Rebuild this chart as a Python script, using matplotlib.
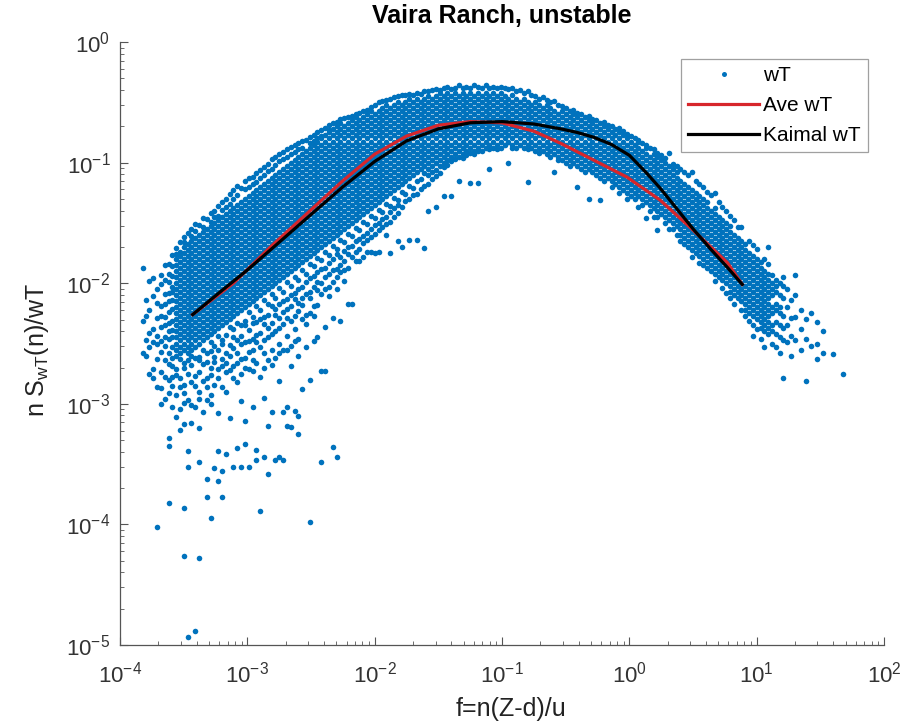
import numpy as np
import matplotlib.pyplot as plt

plt.rcParams['font.family'] = ['Liberation Sans', 'DejaVu Sans']
plt.rcParams['mathtext.fontset'] = 'custom'
plt.rcParams['mathtext.rm'] = 'Liberation Sans'
plt.rcParams['mathtext.it'] = 'Liberation Sans'

wt_columns = [
    (-3.82, [-1.87, -2.31, -2.58]),
    (-3.80, [-2.14, -2.27, -2.47, -2.60]),
    (-3.77, [-1.98, -2.22, -2.41, -2.53, -2.75]),
    (-3.74, [-1.96, -2.11, -2.38, -2.49, -2.71, -2.79]),
    (-3.71, [-2.05, -2.16, -2.29, -2.44, -2.50, -2.63, -2.86, -4.02]),
    (-3.68, [-1.93, -2.01, -2.19, -2.27, -2.36, -2.48, -2.57, -2.74, -2.87, -3.00]),
    (-3.65, [-1.85, -1.97, -2.09, -2.17, -2.28, -2.35, -2.45, -2.52, -2.64, -2.78, -2.96]),
    (-3.62, [-1.84, -1.92, -1.99, -2.08, -2.15, -2.24, -2.33, -2.40, -2.46, -2.58, -2.67, -2.80, -2.91, -3.28, -3.35, -3.82]),
    (-3.59, [-1.77, -1.86, -1.94, -2.03, -2.07, -2.14, -2.21, -2.31, -2.39, -2.45, -2.53, -2.62, -2.69, -2.78, -2.85, -3.03]),
    (-3.56, [-1.71, -1.76, -1.80, -1.85, -1.90, -1.95, -2.00, -2.05, -2.10, -2.15, -2.20, -2.25, -2.30, -2.35, -2.40, -2.45, -2.50, -2.55, -2.60, -2.71, -2.76, -2.93, -3.11]),
    (-3.53, [-1.66, -1.74, -1.775, -1.825, -1.875, -1.925, -1.975, -2.025, -2.075, -2.125, -2.175, -2.225, -2.275, -2.325, -2.375, -2.425, -2.475, -2.525, -2.575, -2.63, -2.79, -2.86, -3.04, -3.22]),
    (-3.50, [-1.62, -1.66, -1.70, -1.75, -1.80, -1.85, -1.90, -1.95, -2.00, -2.05, -2.10, -2.15, -2.20, -2.25, -2.30, -2.35, -2.40, -2.45, -2.50, -2.55, -2.66, -2.70, -2.84, -2.91, -2.99, -3.17, -3.86, -4.26]),
    (-3.47, [-1.58, -1.675, -1.725, -1.775, -1.825, -1.875, -1.925, -1.975, -2.025, -2.075, -2.125, -2.175, -2.225, -2.275, -2.325, -2.375, -2.425, -2.475, -2.525, -2.575, -2.64, -2.75, -2.97, -3.39, -3.52, -4.93]),
    (-3.44, [-1.55, -1.61, -1.65, -1.70, -1.75, -1.80, -1.85, -1.90, -1.95, -2.00, -2.05, -2.10, -2.15, -2.20, -2.25, -2.30, -2.35, -2.40, -2.45, -2.50, -2.55, -2.60, -2.68, -2.82, -3.01, -3.16]),
    (-3.41, [-1.51, -1.57, -1.625, -1.675, -1.725, -1.775, -1.825, -1.875, -1.925, -1.975, -2.025, -2.075, -2.125, -2.175, -2.225, -2.275, -2.325, -2.375, -2.425, -2.475, -2.525, -2.62, -2.77, -2.85, -3.03, -4.88]),
    (-3.38, [-1.52, -1.60, -1.65, -1.70, -1.75, -1.80, -1.85, -1.90, -1.95, -2.00, -2.05, -2.10, -2.15, -2.20, -2.25, -2.30, -2.35, -2.40, -2.45, -2.50, -2.61, -2.64, -2.74, -2.90, -2.96, -3.20, -3.48, -4.28]),
    (-3.35, [-1.46, -1.53, -1.575, -1.625, -1.675, -1.725, -1.775, -1.825, -1.875, -1.925, -1.975, -2.025, -2.075, -2.125, -2.175, -2.225, -2.275, -2.325, -2.375, -2.425, -2.475, -2.55, -2.67, -2.81, -3.07]),
    (-3.32, [-1.47, -1.55, -1.60, -1.65, -1.70, -1.75, -1.80, -1.85, -1.90, -1.95, -2.00, -2.05, -2.10, -2.15, -2.20, -2.25, -2.30, -2.35, -2.40, -2.45, -2.58, -2.65, -2.79, -2.86, -2.97, -3.62, -3.77]),
    (-3.29, [-1.42, -1.49, -1.525, -1.575, -1.625, -1.675, -1.725, -1.775, -1.825, -1.875, -1.925, -1.975, -2.025, -2.075, -2.125, -2.175, -2.225, -2.275, -2.325, -2.375, -2.425, -2.49, -2.56, -2.70, -2.76, -2.93, -3.00, -3.95]),
    (-3.26, [-1.40, -1.45, -1.50, -1.55, -1.60, -1.65, -1.70, -1.75, -1.80, -1.85, -1.90, -1.95, -2.00, -2.05, -2.10, -2.15, -2.20, -2.25, -2.30, -2.35, -2.40, -2.52, -2.61, -2.65, -2.84, -3.53]),
    (-3.23, [-1.36, -1.44, -1.475, -1.525, -1.575, -1.625, -1.675, -1.725, -1.775, -1.825, -1.875, -1.925, -1.975, -2.025, -2.075, -2.125, -2.175, -2.225, -2.275, -2.325, -2.375, -2.44, -2.55, -2.71, -2.79, -3.08, -3.39, -3.64]),
    (-3.20, [-1.33, -1.39, -1.45, -1.50, -1.55, -1.60, -1.65, -1.70, -1.75, -1.80, -1.85, -1.90, -1.95, -2.00, -2.05, -2.10, -2.15, -2.20, -2.25, -2.30, -2.35, -2.47, -2.50, -2.63, -2.69, -2.86, -3.56, -3.77]),
    (-3.17, [-1.30, -1.37, -1.425, -1.475, -1.525, -1.575, -1.625, -1.675, -1.725, -1.775, -1.825, -1.875, -1.925, -1.975, -2.025, -2.075, -2.125, -2.175, -2.225, -2.275, -2.325, -2.43, -2.58, -2.66, -2.74, -2.90, -3.42]),
    (-3.14, [-1.26, -1.34, -1.40, -1.45, -1.50, -1.55, -1.60, -1.65, -1.70, -1.75, -1.80, -1.85, -1.90, -1.95, -2.00, -2.05, -2.10, -2.15, -2.20, -2.25, -2.30, -2.36, -2.51, -2.60, -2.72, -3.12]),
    (-3.11, [-1.23, -1.30, -1.375, -1.425, -1.475, -1.525, -1.575, -1.625, -1.675, -1.725, -1.775, -1.825, -1.875, -1.925, -1.975, -2.025, -2.075, -2.125, -2.175, -2.225, -2.275, -2.38, -2.45, -2.54, -2.69, -2.79, -3.52]),
    (-3.08, [-1.19, -1.27, -1.35, -1.40, -1.45, -1.50, -1.55, -1.60, -1.65, -1.70, -1.75, -1.80, -1.85, -1.90, -1.95, -2.00, -2.05, -2.10, -2.15, -2.20, -2.25, -2.33, -2.47, -2.58, -2.66, -2.82, -3.37]),
    (-3.05, [-1.21, -1.325, -1.375, -1.425, -1.475, -1.525, -1.575, -1.625, -1.675, -1.725, -1.775, -1.825, -1.875, -1.925, -1.975, -2.025, -2.075, -2.125, -2.175, -2.225, -2.35, -2.44, -2.50, -2.63, -2.75, -2.98, -3.52]),
    (-3.02, [-1.15, -1.22, -1.30, -1.35, -1.40, -1.45, -1.50, -1.55, -1.60, -1.65, -1.70, -1.75, -1.80, -1.85, -1.90, -1.95, -2.00, -2.05, -2.10, -2.15, -2.20, -2.31, -2.35, -2.49, -2.62, -2.70, -3.14, -3.33]),
    (-2.99, [-1.13, -1.20, -1.275, -1.325, -1.375, -1.425, -1.475, -1.525, -1.575, -1.625, -1.675, -1.725, -1.775, -1.825, -1.875, -1.925, -1.975, -2.025, -2.075, -2.125, -2.175, -2.24, -2.39, -2.48, -2.57, -2.71, -3.52]),
    (-2.96, [-1.12, -1.18, -1.25, -1.30, -1.35, -1.40, -1.45, -1.50, -1.55, -1.60, -1.65, -1.70, -1.75, -1.80, -1.85, -1.90, -1.95, -2.00, -2.05, -2.10, -2.15, -2.28, -2.33, -2.46, -2.55, -2.64, -2.73, -3.03]),
    (-2.93, [-1.09, -1.16, -1.225, -1.275, -1.325, -1.375, -1.425, -1.475, -1.525, -1.575, -1.625, -1.675, -1.725, -1.775, -1.825, -1.875, -1.925, -1.975, -2.025, -2.075, -2.125, -2.19, -2.32, -2.43, -2.49, -2.66, -3.38, -3.47]),
    (-2.90, [-1.06, -1.13, -1.20, -1.25, -1.30, -1.35, -1.40, -1.45, -1.50, -1.55, -1.60, -1.65, -1.70, -1.75, -1.80, -1.85, -1.90, -1.95, -2.00, -2.05, -2.10, -2.22, -2.30, -2.41, -2.53, -2.78, -3.89]),
    (-2.87, [-1.04, -1.10, -1.175, -1.225, -1.275, -1.325, -1.375, -1.425, -1.475, -1.525, -1.575, -1.625, -1.675, -1.725, -1.775, -1.825, -1.875, -1.925, -1.975, -2.025, -2.075, -2.14, -2.28, -2.34, -2.47, -2.58, -2.70, -2.95, -3.44]),
    (-2.84, [-1.01, -1.07, -1.15, -1.20, -1.25, -1.30, -1.35, -1.40, -1.45, -1.50, -1.55, -1.60, -1.65, -1.70, -1.75, -1.80, -1.85, -1.90, -1.95, -2.00, -2.05, -2.17, -2.26, -2.37, -2.45, -2.64, -3.18, -3.58]),
    (-2.81, [-0.97, -1.05, -1.125, -1.175, -1.225, -1.275, -1.325, -1.375, -1.425, -1.475, -1.525, -1.575, -1.625, -1.675, -1.725, -1.775, -1.825, -1.875, -1.925, -1.975, -2.025, -2.09, -2.19, -2.33, -2.42, -2.55, -2.68, -3.07]),
    (-2.78, [-0.95, -1.02, -1.10, -1.15, -1.20, -1.25, -1.30, -1.35, -1.40, -1.45, -1.50, -1.55, -1.60, -1.65, -1.70, -1.75, -1.80, -1.85, -1.90, -1.95, -2.00, -2.12, -2.21, -2.26, -2.40, -2.62, -3.47]),
    (-2.75, [-0.93, -0.99, -1.075, -1.125, -1.175, -1.225, -1.275, -1.325, -1.375, -1.425, -1.475, -1.525, -1.575, -1.625, -1.675, -1.725, -1.775, -1.825, -1.875, -1.925, -1.975, -2.04, -2.17, -2.29, -2.37, -2.50, -2.58, -2.81, -3.44]),
    (-2.72, [-0.91, -0.97, -1.05, -1.10, -1.15, -1.20, -1.25, -1.30, -1.35, -1.40, -1.45, -1.50, -1.55, -1.60, -1.65, -1.70, -1.75, -1.80, -1.85, -1.90, -1.95, -2.07, -2.15, -2.24, -2.34, -2.55, -3.07, -3.47]),
    (-2.69, [-0.89, -0.95, -1.025, -1.075, -1.125, -1.175, -1.225, -1.275, -1.325, -1.375, -1.425, -1.475, -1.525, -1.575, -1.625, -1.675, -1.725, -1.775, -1.825, -1.875, -1.925, -1.99, -2.13, -2.21, -2.29, -2.44, -2.55, -3.03, -3.18]),
    (-2.66, [-0.87, -0.93, -1.00, -1.05, -1.10, -1.15, -1.20, -1.25, -1.30, -1.35, -1.40, -1.45, -1.50, -1.55, -1.60, -1.65, -1.70, -1.75, -1.80, -1.85, -1.90, -2.02, -2.10, -2.19, -2.31, -2.52, -2.69, -3.19]),
    (-2.63, [-0.85, -0.91, -0.975, -1.025, -1.075, -1.125, -1.175, -1.225, -1.275, -1.325, -1.375, -1.425, -1.475, -1.525, -1.575, -1.625, -1.675, -1.725, -1.775, -1.825, -1.875, -1.95, -2.08, -2.13, -2.27, -2.38, -2.48, -3.06]),
    (-2.60, [-0.84, -0.89, -0.95, -1.00, -1.05, -1.10, -1.15, -1.20, -1.25, -1.30, -1.35, -1.40, -1.45, -1.50, -1.55, -1.60, -1.65, -1.70, -1.75, -1.80, -1.85, -1.97, -2.05, -2.16, -2.23, -2.46, -2.60, -3.10, -3.25]),
    (-2.57, [-0.82, -0.88, -0.925, -0.975, -1.025, -1.075, -1.125, -1.175, -1.225, -1.275, -1.325, -1.375, -1.425, -1.475, -1.525, -1.575, -1.625, -1.675, -1.725, -1.775, -1.825, -1.89, -2.03, -2.12, -2.18, -2.30, -2.88]),
    (-2.54, [-0.81, -0.90, -0.95, -1.00, -1.05, -1.10, -1.15, -1.20, -1.25, -1.30, -1.35, -1.40, -1.45, -1.50, -1.55, -1.60, -1.65, -1.70, -1.75, -1.80, -1.92, -1.99, -2.09, -2.26, -2.34, -2.53]),
    (-2.51, [-0.79, -0.84, -0.875, -0.925, -0.975, -1.025, -1.075, -1.125, -1.175, -1.225, -1.275, -1.325, -1.375, -1.425, -1.475, -1.525, -1.575, -1.625, -1.675, -1.725, -1.775, -1.84, -1.96, -2.07, -2.12, -2.25, -2.80, -3.98]),
    (-2.48, [-0.77, -0.82, -0.85, -0.90, -0.95, -1.00, -1.05, -1.10, -1.15, -1.20, -1.25, -1.30, -1.35, -1.40, -1.45, -1.50, -1.55, -1.60, -1.65, -1.70, -1.75, -1.86, -1.94, -2.03, -2.19, -2.27, -2.48]),
    (-2.45, [-0.75, -0.80, -0.825, -0.875, -0.925, -0.975, -1.025, -1.075, -1.125, -1.175, -1.225, -1.275, -1.325, -1.375, -1.425, -1.475, -1.525, -1.575, -1.625, -1.675, -1.725, -1.79, -1.91, -1.99, -2.06, -2.18, -2.45]),
    (-2.42, [-0.73, -0.78, -0.80, -0.85, -0.90, -0.95, -1.00, -1.05, -1.10, -1.15, -1.20, -1.25, -1.30, -1.35, -1.40, -1.45, -1.50, -1.55, -1.60, -1.65, -1.70, -1.81, -1.88, -2.00, -2.09, -2.73, -3.48]),
    (-2.39, [-0.71, -0.775, -0.825, -0.875, -0.925, -0.975, -1.025, -1.075, -1.125, -1.175, -1.225, -1.275, -1.325, -1.375, -1.425, -1.475, -1.525, -1.575, -1.625, -1.675, -1.74, -1.87, -1.95, -2.05, -2.36, -2.73]),
    (-2.36, [-0.69, -0.73, -0.75, -0.80, -0.85, -0.90, -0.95, -1.00, -1.05, -1.10, -1.15, -1.20, -1.25, -1.30, -1.35, -1.40, -1.45, -1.50, -1.55, -1.60, -1.65, -1.77, -1.83, -1.92, -2.03, -2.11]),
    (-2.33, [-0.67, -0.725, -0.775, -0.825, -0.875, -0.925, -0.975, -1.025, -1.075, -1.125, -1.175, -1.225, -1.275, -1.325, -1.375, -1.425, -1.475, -1.525, -1.575, -1.625, -1.69, -1.80, -1.89, -1.99, -2.29, -3.36]),
    (-2.30, [-0.66, -0.70, -0.75, -0.80, -0.85, -0.90, -0.95, -1.00, -1.05, -1.10, -1.15, -1.20, -1.25, -1.30, -1.35, -1.40, -1.45, -1.50, -1.55, -1.60, -1.72, -1.76, -1.88, -1.95, -2.05, -3.44]),
    (-2.27, [-0.64, -0.675, -0.725, -0.775, -0.825, -0.875, -0.925, -0.975, -1.025, -1.075, -1.125, -1.175, -1.225, -1.275, -1.325, -1.375, -1.425, -1.475, -1.525, -1.575, -1.64, -1.78, -1.85, -1.91, -2.31]),
    (-2.24, [-0.63, -0.70, -0.75, -0.80, -0.85, -0.90, -0.95, -1.00, -1.05, -1.10, -1.15, -1.20, -1.25, -1.30, -1.35, -1.40, -1.45, -1.50, -1.55, -1.66, -1.73, -1.82, -1.89, -1.98]),
    (-2.21, [-0.62, -0.675, -0.725, -0.775, -0.825, -0.875, -0.925, -0.975, -1.025, -1.075, -1.125, -1.175, -1.225, -1.275, -1.325, -1.375, -1.425, -1.475, -1.525, -1.59, -1.70, -1.76, -1.87, -2.17]),
    (-2.18, [-0.61, -0.65, -0.70, -0.75, -0.80, -0.85, -0.90, -0.95, -1.00, -1.05, -1.10, -1.15, -1.20, -1.25, -1.30, -1.35, -1.40, -1.45, -1.50, -1.61, -1.69, -1.78, -2.17]),
    (-2.15, [-0.60, -0.625, -0.675, -0.725, -0.775, -0.825, -0.875, -0.925, -0.975, -1.025, -1.075, -1.125, -1.175, -1.225, -1.275, -1.325, -1.375, -1.425, -1.475, -1.54, -1.65, -1.74, -1.82]),
    (-2.12, [-0.59, -0.65, -0.70, -0.75, -0.80, -0.85, -0.90, -0.95, -1.00, -1.05, -1.10, -1.15, -1.20, -1.25, -1.30, -1.35, -1.40, -1.45, -1.56, -1.63, -1.72, -1.82]),
    (-2.09, [-0.57, -0.625, -0.675, -0.725, -0.775, -0.825, -0.875, -0.925, -0.975, -1.025, -1.075, -1.125, -1.175, -1.225, -1.275, -1.325, -1.375, -1.425, -1.49, -1.61, -1.67, -1.78]),
    (-2.06, [-0.56, -0.60, -0.65, -0.70, -0.75, -0.80, -0.85, -0.90, -0.95, -1.00, -1.05, -1.10, -1.15, -1.20, -1.25, -1.30, -1.35, -1.40, -1.51, -1.58, -1.64, -1.74]),
    (-2.03, [-0.54, -0.575, -0.625, -0.675, -0.725, -0.775, -0.825, -0.875, -0.925, -0.975, -1.025, -1.075, -1.125, -1.175, -1.225, -1.275, -1.325, -1.375, -1.44, -1.55, -1.62, -1.74]),
    (-2.00, [-0.52, -0.60, -0.65, -0.70, -0.75, -0.80, -0.85, -0.90, -0.95, -1.00, -1.05, -1.10, -1.15, -1.20, -1.25, -1.30, -1.35, -1.46, -1.52, -1.59, -1.75]),
    (-1.97, [-0.50, -0.575, -0.625, -0.675, -0.725, -0.775, -0.825, -0.875, -0.925, -0.975, -1.025, -1.075, -1.125, -1.175, -1.225, -1.275, -1.325, -1.39, -1.50, -1.56, -1.74]),
    (-1.94, [-0.49, -0.55, -0.60, -0.65, -0.70, -0.75, -0.80, -0.85, -0.90, -0.95, -1.00, -1.05, -1.10, -1.15, -1.20, -1.25, -1.30, -1.41, -1.47, -1.53]),
    (-1.91, [-0.48, -0.525, -0.575, -0.625, -0.675, -0.725, -0.775, -0.825, -0.875, -0.925, -0.975, -1.025, -1.075, -1.125, -1.175, -1.225, -1.275, -1.34, -1.45, -1.51, -1.60]),
    (-1.88, [-0.47, -0.55, -0.60, -0.65, -0.70, -0.75, -0.80, -0.85, -0.90, -0.95, -1.00, -1.05, -1.10, -1.15, -1.20, -1.25, -1.36, -1.41, -1.49, -1.75]),
    (-1.85, [-0.46, -0.525, -0.575, -0.625, -0.675, -0.725, -0.775, -0.825, -0.875, -0.925, -0.975, -1.025, -1.075, -1.125, -1.175, -1.225, -1.29, -1.38, -1.45]),
    (-1.82, [-0.45, -0.50, -0.55, -0.60, -0.65, -0.70, -0.75, -0.80, -0.85, -0.90, -0.95, -1.00, -1.05, -1.10, -1.15, -1.20, -1.31, -1.35, -1.42, -1.65]),
    (-1.79, [-0.44, -0.525, -0.575, -0.625, -0.675, -0.725, -0.775, -0.825, -0.875, -0.925, -0.975, -1.025, -1.075, -1.125, -1.175, -1.24, -1.37, -1.70]),
    (-1.76, [-0.44, -0.50, -0.55, -0.60, -0.65, -0.70, -0.75, -0.80, -0.85, -0.90, -0.95, -1.00, -1.05, -1.10, -1.15, -1.26, -1.32]),
    (-1.73, [-0.43, -0.475, -0.525, -0.575, -0.625, -0.675, -0.725, -0.775, -0.825, -0.875, -0.925, -0.975, -1.025, -1.075, -1.125, -1.19, -1.30, -1.64]),
    (-1.70, [-0.44, -0.50, -0.55, -0.60, -0.65, -0.70, -0.75, -0.80, -0.85, -0.90, -0.95, -1.00, -1.05, -1.10, -1.21, -1.27]),
    (-1.67, [-0.42, -0.475, -0.525, -0.575, -0.625, -0.675, -0.725, -0.775, -0.825, -0.875, -0.925, -0.975, -1.025, -1.075, -1.15, -1.26, -1.64]),
    (-1.64, [-0.43, -0.50, -0.55, -0.60, -0.65, -0.70, -0.75, -0.80, -0.85, -0.90, -0.95, -1.00, -1.05, -1.14, -1.22]),
    (-1.61, [-0.41, -0.475, -0.525, -0.575, -0.625, -0.675, -0.725, -0.775, -0.825, -0.875, -0.925, -0.975, -1.025, -1.09, -1.19, -1.71]),
    (-1.58, [-0.41, -0.45, -0.50, -0.55, -0.60, -0.65, -0.70, -0.75, -0.80, -0.85, -0.90, -0.95, -1.00, -1.05, -1.10, -1.18, -1.40]),
    (-1.55, [-0.40, -0.475, -0.525, -0.575, -0.625, -0.675, -0.725, -0.775, -0.825, -0.875, -0.925, -0.975, -1.025, -1.08, -1.14]),
    (-1.52, [-0.39, -0.45, -0.50, -0.55, -0.60, -0.65, -0.70, -0.75, -0.80, -0.85, -0.90, -0.95, -1.00, -1.06, -1.11, -1.37]),
    (-1.49, [-0.40, -0.425, -0.475, -0.525, -0.575, -0.625, -0.675, -0.725, -0.775, -0.825, -0.875, -0.925, -0.975, -1.03, -1.09]),
    (-1.46, [-0.38, -0.45, -0.50, -0.55, -0.60, -0.65, -0.70, -0.75, -0.80, -0.85, -0.90, -0.95, -1.00, -1.04, -1.28]),
    (-1.43, [-0.37, -0.425, -0.475, -0.525, -0.575, -0.625, -0.675, -0.725, -0.775, -0.825, -0.875, -0.925, -0.98, -1.02]),
    (-1.40, [-0.39, -0.45, -0.50, -0.55, -0.60, -0.65, -0.70, -0.75, -0.80, -0.85, -0.90, -0.95, -0.99, -1.28]),
    (-1.37, [-0.38, -0.425, -0.475, -0.525, -0.575, -0.625, -0.675, -0.725, -0.775, -0.825, -0.875, -0.925, -0.97]),
    (-1.34, [-0.36, -0.45, -0.50, -0.55, -0.60, -0.65, -0.70, -0.75, -0.80, -0.85, -0.90, -0.95, -1.15]),
    (-1.31, [-0.38, -0.425, -0.475, -0.525, -0.575, -0.625, -0.675, -0.725, -0.775, -0.825, -0.875, -0.925, -0.96]),
    (-1.28, [-0.37, -0.45, -0.50, -0.55, -0.60, -0.65, -0.70, -0.75, -0.80, -0.85, -0.90, -0.94]),
    (-1.25, [-0.38, -0.425, -0.475, -0.525, -0.575, -0.625, -0.675, -0.725, -0.775, -0.825, -0.875, -0.92, -1.17]),
    (-1.22, [-0.36, -0.45, -0.50, -0.55, -0.60, -0.65, -0.70, -0.75, -0.80, -0.85, -0.90, -0.93]),
    (-1.19, [-0.37, -0.425, -0.475, -0.525, -0.575, -0.625, -0.675, -0.725, -0.775, -0.825, -0.875, -0.90, -1.17]),
    (-1.16, [-0.38, -0.45, -0.50, -0.55, -0.60, -0.65, -0.70, -0.75, -0.80, -0.85, -0.90]),
    (-1.13, [-0.36, -0.425, -0.475, -0.525, -0.575, -0.625, -0.675, -0.725, -0.775, -0.825, -0.875]),
    (-1.10, [-0.38, -0.45, -0.50, -0.55, -0.60, -0.65, -0.70, -0.75, -0.80, -0.85, -0.89, -1.05]),
    (-1.07, [-0.37, -0.425, -0.475, -0.525, -0.575, -0.625, -0.675, -0.725, -0.775, -0.825, -0.875]),
    (-1.04, [-0.38, -0.45, -0.50, -0.55, -0.60, -0.65, -0.70, -0.75, -0.80, -0.85, -0.89]),
    (-1.01, [-0.37, -0.425, -0.475, -0.525, -0.575, -0.625, -0.675, -0.725, -0.775, -0.825, -0.875]),
    (-0.98, [-0.38, -0.45, -0.50, -0.55, -0.60, -0.65, -0.70, -0.75, -0.80, -0.85]),
    (-0.95, [-0.39, -0.475, -0.525, -0.575, -0.625, -0.675, -0.725, -0.775, -0.825, -1.00]),
    (-0.92, [-0.38, -0.44, -0.50, -0.55, -0.60, -0.65, -0.70, -0.75, -0.80, -0.85, -0.88]),
    (-0.89, [-0.41, -0.475, -0.525, -0.575, -0.625, -0.675, -0.725, -0.775, -0.825, -0.875]),
    (-0.86, [-0.40, -0.50, -0.55, -0.60, -0.65, -0.70, -0.75, -0.80, -0.85]),
    (-0.83, [-0.42, -0.475, -0.525, -0.575, -0.625, -0.675, -0.725, -0.775, -0.825, -0.875]),
    (-0.80, [-0.41, -0.50, -0.55, -0.60, -0.65, -0.70, -0.75, -0.80, -0.85, -0.89, -1.16]),
    (-0.77, [-0.44, -0.525, -0.575, -0.625, -0.675, -0.725, -0.775, -0.825, -0.875]),
    (-0.74, [-0.45, -0.50, -0.55, -0.60, -0.65, -0.70, -0.75, -0.80, -0.85, -0.90]),
    (-0.71, [-0.47, -0.525, -0.575, -0.625, -0.675, -0.725, -0.775, -0.825, -0.875, -0.92]),
    (-0.68, [-0.46, -0.55, -0.60, -0.65, -0.70, -0.75, -0.80, -0.85, -0.90]),
    (-0.65, [-0.48, -0.525, -0.575, -0.625, -0.675, -0.725, -0.775, -0.825, -0.875, -0.925]),
    (-0.62, [-0.50, -0.55, -0.60, -0.65, -0.70, -0.75, -0.80, -0.85, -0.90, -0.95]),
    (-0.59, [-0.49, -0.575, -0.625, -0.675, -0.725, -0.775, -0.825, -0.875, -0.925, -1.08]),
    (-0.56, [-0.52, -0.60, -0.65, -0.70, -0.75, -0.80, -0.85, -0.90, -0.95, -0.98]),
    (-0.53, [-0.53, -0.575, -0.625, -0.675, -0.725, -0.775, -0.825, -0.875, -0.925, -0.975]),
    (-0.50, [-0.55, -0.60, -0.65, -0.70, -0.75, -0.80, -0.85, -0.90, -0.95, -1.00]),
    (-0.47, [-0.57, -0.625, -0.675, -0.725, -0.775, -0.825, -0.875, -0.925, -0.975, -1.025]),
    (-0.44, [-0.56, -0.60, -0.65, -0.70, -0.75, -0.80, -0.85, -0.90, -0.95, -1.00]),
    (-0.41, [-0.59, -0.625, -0.675, -0.725, -0.775, -0.825, -0.875, -0.925, -0.975, -1.025, -1.20]),
    (-0.38, [-0.60, -0.65, -0.70, -0.75, -0.80, -0.85, -0.90, -0.95, -1.00, -1.05]),
    (-0.35, [-0.62, -0.675, -0.725, -0.775, -0.825, -0.875, -0.925, -0.975, -1.025, -1.075]),
    (-0.32, [-0.61, -0.65, -0.70, -0.75, -0.80, -0.85, -0.90, -0.95, -1.00, -1.05, -1.30]),
    (-0.29, [-0.64, -0.675, -0.725, -0.775, -0.825, -0.875, -0.925, -0.975, -1.025, -1.075]),
    (-0.26, [-0.65, -0.70, -0.75, -0.80, -0.85, -0.90, -0.95, -1.00, -1.05, -1.10]),
    (-0.23, [-0.67, -0.725, -0.775, -0.825, -0.875, -0.925, -0.975, -1.025, -1.075, -1.125, -1.31]),
    (-0.20, [-0.66, -0.70, -0.75, -0.80, -0.85, -0.90, -0.95, -1.00, -1.05, -1.10, -1.15]),
    (-0.17, [-0.69, -0.725, -0.775, -0.825, -0.875, -0.925, -0.975, -1.025, -1.075, -1.125]),
    (-0.14, [-0.70, -0.75, -0.80, -0.85, -0.90, -0.95, -1.00, -1.05, -1.10, -1.15, -1.20]),
    (-0.11, [-0.72, -0.775, -0.825, -0.875, -0.925, -0.975, -1.025, -1.075, -1.125, -1.175]),
    (-0.08, [-0.71, -0.75, -0.80, -0.85, -0.90, -0.95, -1.00, -1.05, -1.10, -1.15, -1.20, -1.25]),
    (-0.05, [-0.74, -0.775, -0.825, -0.875, -0.925, -0.975, -1.025, -1.075, -1.125, -1.175, -1.225]),
    (-0.02, [-0.76, -0.80, -0.85, -0.90, -0.95, -1.00, -1.05, -1.10, -1.15, -1.20, -1.25, -1.30]),
    (0.01, [-0.78, -0.825, -0.875, -0.925, -0.975, -1.025, -1.075, -1.125, -1.175, -1.225, -1.275]),
    (0.04, [-0.80, -0.85, -0.90, -0.95, -1.00, -1.05, -1.10, -1.15, -1.20, -1.25, -1.30]),
    (0.07, [-0.81, -0.825, -0.875, -0.925, -0.975, -1.025, -1.075, -1.125, -1.175, -1.225, -1.275, -1.37]),
    (0.10, [-0.84, -0.90, -0.95, -1.00, -1.05, -1.10, -1.15, -1.20, -1.25, -1.30, -1.35]),
    (0.13, [-0.85, -0.875, -0.925, -0.975, -1.025, -1.075, -1.125, -1.175, -1.225, -1.275, -1.325, -1.46]),
    (0.16, [-0.88, -0.95, -1.00, -1.05, -1.10, -1.15, -1.20, -1.25, -1.30, -1.35, -1.40]),
    (0.19, [-0.89, -0.925, -0.975, -1.025, -1.075, -1.125, -1.175, -1.225, -1.275, -1.325, -1.375, -1.45]),
    (0.22, [-0.92, -0.95, -1.00, -1.05, -1.10, -1.15, -1.20, -1.25, -1.30, -1.35, -1.40, -1.45, -1.56]),
    (0.25, [-0.94, -0.975, -1.025, -1.075, -1.125, -1.175, -1.225, -1.275, -1.325, -1.375, -1.425]),
    (0.28, [-0.96, -1.00, -1.05, -1.10, -1.15, -1.20, -1.25, -1.30, -1.35, -1.40, -1.45, -1.50]),
    (0.31, [-0.92, -1.025, -1.075, -1.125, -1.175, -1.225, -1.275, -1.325, -1.375, -1.425, -1.475, -1.55]),
    (0.34, [-1.01, -1.05, -1.10, -1.15, -1.20, -1.25, -1.30, -1.35, -1.40, -1.45, -1.50, -1.55]),
    (0.37, [-1.03, -1.075, -1.125, -1.175, -1.225, -1.275, -1.325, -1.375, -1.425, -1.475, -1.525, -1.60]),
    (0.40, [-1.05, -1.15, -1.20, -1.25, -1.30, -1.35, -1.40, -1.45, -1.50, -1.55, -1.60, -1.65]),
    (0.43, [-1.08, -1.175, -1.225, -1.275, -1.325, -1.375, -1.425, -1.475, -1.525, -1.575, -1.625, -1.675]),
    (0.46, [-1.10, -1.20, -1.25, -1.30, -1.35, -1.40, -1.45, -1.50, -1.55, -1.60, -1.65, -1.70]),
    (0.49, [-1.08, -1.225, -1.275, -1.325, -1.375, -1.425, -1.475, -1.525, -1.575, -1.625, -1.675, -1.725, -1.78]),
    (0.52, [-1.15, -1.25, -1.30, -1.35, -1.40, -1.45, -1.50, -1.55, -1.60, -1.65, -1.70, -1.75]),
    (0.55, [-1.18, -1.275, -1.325, -1.375, -1.425, -1.475, -1.525, -1.575, -1.625, -1.675, -1.725, -1.775, -1.83]),
    (0.58, [-1.20, -1.30, -1.35, -1.40, -1.45, -1.50, -1.55, -1.60, -1.65, -1.70, -1.75, -1.80, -1.85]),
    (0.61, [-1.24, -1.325, -1.375, -1.425, -1.475, -1.525, -1.575, -1.625, -1.675, -1.725, -1.775, -1.825, -1.875]),
    (0.64, [-1.27, -1.40, -1.45, -1.50, -1.55, -1.60, -1.65, -1.70, -1.75, -1.80, -1.85, -1.90]),
    (0.67, [-1.25, -1.375, -1.425, -1.475, -1.525, -1.575, -1.625, -1.675, -1.725, -1.775, -1.825, -1.875, -1.925, -1.98]),
    (0.70, [-1.33, -1.45, -1.50, -1.55, -1.60, -1.65, -1.70, -1.75, -1.80, -1.85, -1.90, -1.95]),
    (0.73, [-1.37, -1.475, -1.525, -1.575, -1.625, -1.675, -1.725, -1.775, -1.825, -1.875, -1.925, -1.975, -2.04]),
    (0.76, [-1.40, -1.50, -1.55, -1.60, -1.65, -1.70, -1.75, -1.80, -1.85, -1.90, -1.95, -2.00, -2.08]),
    (0.79, [-1.44, -1.525, -1.575, -1.625, -1.675, -1.725, -1.775, -1.825, -1.875, -1.925, -1.975, -2.025, -2.075, -2.12]),
    (0.82, [-1.48, -1.60, -1.65, -1.70, -1.75, -1.80, -1.85, -1.90, -1.95, -2.00, -2.05, -2.10, -2.17]),
    (0.85, [-1.53, -1.625, -1.675, -1.725, -1.775, -1.825, -1.875, -1.925, -1.975, -2.025, -2.075, -2.125]),
    (0.88, [-1.53, -1.65, -1.70, -1.75, -1.80, -1.85, -1.90, -1.95, -2.00, -2.05, -2.10, -2.15, -2.22]),
    (0.91, [-1.675, -1.725, -1.775, -1.825, -1.875, -1.925, -1.975, -2.025, -2.075, -2.125, -2.175, -2.225, -2.27]),
    (0.94, [-1.65, -1.75, -1.80, -1.85, -1.90, -1.95, -2.00, -2.05, -2.10, -2.15, -2.20, -2.25, -2.31]),
    (0.97, [-1.68, -1.775, -1.825, -1.875, -1.925, -1.975, -2.025, -2.075, -2.125, -2.175, -2.225, -2.275, -2.35, -2.44]),
    (1.00, [-1.72, -1.80, -1.85, -1.90, -1.95, -2.00, -2.05, -2.10, -2.15, -2.20, -2.25, -2.30, -2.38]),
    (1.03, [-1.825, -1.875, -1.925, -1.975, -2.025, -2.075, -2.125, -2.175, -2.225, -2.275, -2.325, -2.375, -2.46]),
    (1.06, [-1.80, -1.90, -1.95, -2.00, -2.05, -2.10, -2.15, -2.20, -2.25, -2.30, -2.35, -2.40, -2.53]),
    (1.09, [-1.70, -1.84, -1.925, -1.975, -2.025, -2.075, -2.125, -2.175, -2.225, -2.275, -2.325, -2.375, -2.425]),
    (1.12, [-1.93, -2.00, -2.05, -2.10, -2.20, -2.25, -2.35, -2.40, -2.50]),
    (1.15, [-1.975, -2.025, -2.075, -2.175, -2.225, -2.325, -2.425, -2.53]),
    (1.18, [-2.00, -2.10, -2.20, -2.25, -2.35, -2.45, -2.58]),
    (1.21, [-1.95, -2.025, -2.125, -2.275, -2.375, -2.475, -2.79]),
    (1.24, [-2.05, -2.20, -2.35, -2.49]),
    (1.27, [-2.14, -2.29, -2.44, -2.60]),
    (1.30, [-1.93, -2.10, -2.28, -2.47]),
    (1.35, [-2.22, -2.38, -2.55]),
    (1.39, [-2.30, -2.46, -2.81]),
    (1.43, [-2.25, -2.52]),
    (1.47, [-2.32, -2.50, -2.63]),
    (1.52, [-2.40, -2.58]),
    (1.60, [-2.59]),
    (1.68, [-2.75]),
]

# Kaimal wT curve (log10 f, log10 nS/wT)
kaimal_logf = [-3.43, -3.20, -3.00, -2.75, -2.50, -2.25, -2.00, -1.75, -1.50, -1.25, -1.00, -0.75,
               -0.54, -0.41, -0.28, -0.14, 0.00, 0.12, 0.24, 0.37, 0.50, 0.64, 0.77, 0.886]
kaimal_logS = [-2.26, -2.06, -1.89, -1.66, -1.43, -1.20, -0.99, -0.82, -0.72, -0.67, -0.66, -0.68,
               -0.72, -0.75, -0.79, -0.85, -0.94, -1.07, -1.21, -1.38, -1.55, -1.72, -1.87, -2.01]

# averaged wT curve
ave_logf = [-3.43, -3.11, -2.82, -2.53, -2.25, -2.00, -1.75, -1.50, -1.25, -1.00,
            -0.75, -0.54, -0.28, -0.02, 0.24, 0.50, 0.77, 0.886]
ave_logS = [-2.26, -2.00, -1.70, -1.42, -1.15, -0.93, -0.78, -0.69, -0.66, -0.67,
            -0.74, -0.84, -0.98, -1.12, -1.31, -1.56, -1.83, -2.01]

wt_logf = []
wt_logS = []
for lf, col in wt_columns:
    wt_logf += [lf] * len(col)
    wt_logS += col

fig = plt.figure(figsize=(9.1, 7.28), dpi=100)
ax = fig.add_axes([0.132, 0.114, 0.8395, 0.8283])

ax.plot(10 ** np.array(wt_logf), 10 ** np.array(wt_logS), 'o', color='#0072BD',
        markersize=4.0, markeredgewidth=0, label='wT')
ax.plot(10 ** np.array(ave_logf), 10 ** np.array(ave_logS), '-', color='#D7262B',
        lw=2.3, label='Ave wT')
ax.plot(10 ** np.array(kaimal_logf), 10 ** np.array(kaimal_logS), '-', color='black',
        lw=2.3, label='Kaimal wT')

ax.set_xscale('log')
ax.set_yscale('log')
ax.set_xlim(1e-4, 1e2)
ax.set_ylim(1e-5, 1e0)
ax.set_xticks([1e-4, 1e-3, 1e-2, 1e-1, 1e0, 1e1, 1e2])
ax.set_yticks([1e-5, 1e-4, 1e-3, 1e-2, 1e-1, 1e0])

for side in ['top', 'right']:
    ax.spines[side].set_visible(False)
for side in ['left', 'bottom']:
    ax.spines[side].set_color('#555555')
    ax.spines[side].set_linewidth(0.9)

ax.tick_params(which='both', direction='in', colors='#555555', labelcolor='#333333',
               labelsize=16)
ax.tick_params(which='major', length=6)
ax.tick_params(which='minor', length=3)
ax.xaxis.set_tick_params(which='major', pad=12)
ax.yaxis.set_tick_params(which='major', pad=7)

ax.set_title('Vaira Ranch, unstable', fontsize=18, fontweight='bold', pad=14)
ax.set_xlabel('f=n(Z-d)/u', fontsize=18, color='#222222')
ax.set_ylabel(r'n S$_{wT}$(n)/wT', fontsize=18, color='#222222')
ax.xaxis.set_label_coords(0.512, -0.086)
ax.yaxis.set_label_coords(-0.090, 0.49)

leg = ax.legend(loc='upper right', bbox_to_anchor=(0.979, 0.972), borderaxespad=0,
                fontsize=15, handlelength=3.4, handletextpad=0.2, frameon=True,
                fancybox=False, borderpad=0.35, labelspacing=0.52, markerscale=0.9)
leg.get_frame().set_edgecolor('#888888')
leg.get_frame().set_linewidth(0.9)

fig.savefig('out.png', dpi=100)
